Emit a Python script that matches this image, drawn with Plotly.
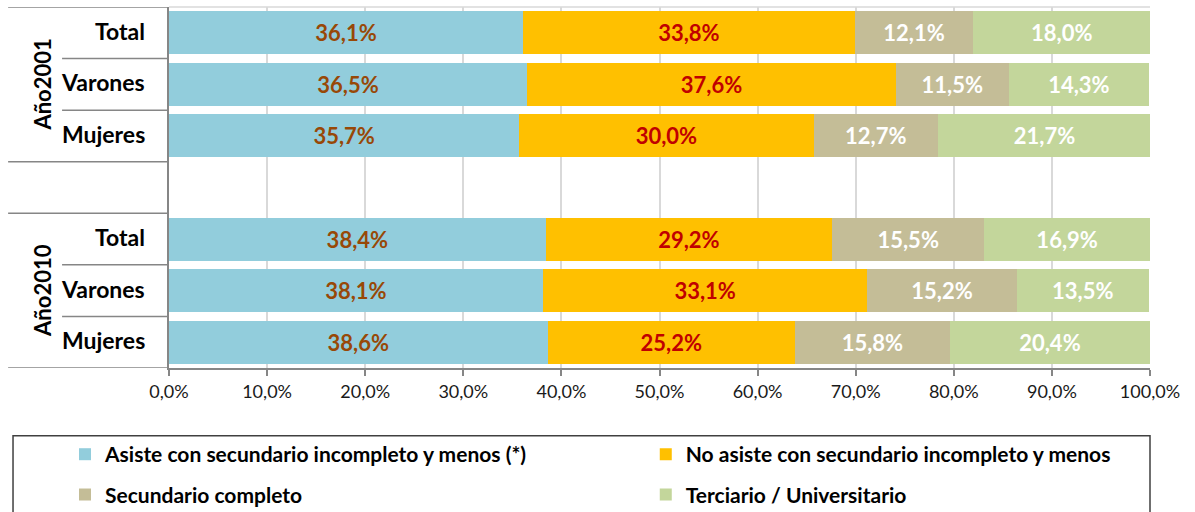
import plotly.graph_objects as go

# datos
grupos = ["Año2001", "Año2010"]
sexos = ["Total", "Varones", "Mujeres"]
series = [
    "Asiste con secundario incompleto y menos (*)",
    "No asiste con secundario incompleto y menos",
    "Secundario completo",
    "Terciario / Universitario",
]
asiste = [36.1, 36.5, 35.7, 38.4, 38.1, 38.6]
no_asiste = [33.8, 37.6, 30.0, 29.2, 33.1, 25.2]
sec_completo = [12.1, 11.5, 12.7, 15.5, 15.2, 15.8]
terciario = [18.0, 14.3, 21.7, 16.9, 13.5, 20.4]
ticks_x = [0, 10, 20, 30, 40, 50, 60, 70, 80, 90, 100]
ticks_txt = ["0,0%", "10,0%", "20,0%", "30,0%", "40,0%", "50,0%",
             "60,0%", "70,0%", "80,0%", "90,0%", "100,0%"]

colores = ["#92CDDC", "#FFC000", "#C4BD97", "#C3D69B"]
colores_texto = ["#984807", "#C00000", "#FFFFFF", "#FFFFFF"]
leyendas = ["legend", "legend2", "legend", "legend2"]

FONT = "Lato"
filas = [f"{g}|{s}" for g in grupos for s in sexos]
orden = filas[:3] + ["-"] + filas[3:]

fig = go.Figure()
for i, valores in enumerate([asiste, no_asiste, sec_completo, terciario]):
    fig.add_trace(go.Bar(
        y=filas,
        x=valores,
        orientation="h",
        name=series[i],
        legend=leyendas[i],
        legendgroup=series[i],
        marker=dict(color=colores[i], line=dict(width=0)),
        texttemplate="%{x:.1f}%",
        textposition="inside",
        insidetextanchor="middle",
        textangle=0,
        textfont=dict(family=FONT, size=22, color=colores_texto[i], weight="bold"),
    ))

# etiquetas de categorias y grupos
gris = "#868686"
shapes = []
annotations = []
for gi, g in enumerate(grupos):
    base = orden.index(f"{g}|{sexos[0]}")
    shapes.append(dict(type="line", xref="paper", yref="y", x0=-0.164, x1=0,
                       y0=base - 0.5, y1=base - 0.5, line=dict(color=gris, width=1.5)))
    shapes.append(dict(type="line", xref="paper", yref="y", x0=-0.164, x1=0,
                       y0=base + 2.5, y1=base + 2.5, line=dict(color=gris, width=1.5)))
    for k in range(1, 3):
        shapes.append(dict(type="line", xref="paper", yref="y", x0=-0.109, x1=0,
                           y0=base + k - 0.5, y1=base + k - 0.5, line=dict(color=gris, width=1.5)))
    for s in sexos:
        annotations.append(dict(x=0, xref="paper", y=f"{g}|{s}", yref="y", text=s,
                                showarrow=False, xanchor="right", xshift=-22, yshift=2,
                                font=dict(family=FONT, size=23, color="#000000", weight="bold")))
    annotations.append(dict(x=-0.145, xref="paper", y=f"{g}|{sexos[1]}", yref="y", text=g,
                            showarrow=False, textangle=-90,
                            font=dict(family=FONT, size=22, color="#000000", weight="bold")))

# linea superior del area de trazado
shapes.append(dict(type="line", xref="paper", yref="paper", x0=0, x1=1, y0=1, y1=1,
                   line=dict(color="#D9D9D9", width=1.5)))
# marco de la leyenda
shapes.append(dict(type="rect", xref="paper", yref="paper", x0=-0.159, x1=1.0,
                   y0=-0.188, y1=-0.5, line=dict(color="#404040", width=1.5)))

fig.update_layout(
    width=1195,
    height=512,
    barmode="stack",
    bargap=0.165,
    separators=",.",
    plot_bgcolor="white",
    paper_bgcolor="white",
    margin=dict(l=169, r=45, t=7, b=144, autoexpand=False),
    font=dict(family=FONT, color="#000000"),
    xaxis=dict(
        range=[0, 100],
        tickvals=ticks_x,
        ticktext=ticks_txt,
        showgrid=True,
        gridcolor="#D9D9D9",
        gridwidth=1.5,
        showline=True,
        linecolor=gris,
        linewidth=1.5,
        ticks="outside",
        ticklen=6,
        tickcolor=gris,
        tickwidth=1.5,
        ticklabelstandoff=1,
        tickfont=dict(family=FONT, size=18, color="#1A1A1A"),
        zeroline=False,
    ),
    yaxis=dict(
        type="category",
        categoryorder="array",
        categoryarray=orden,
        range=[6.5, -0.5],
        showticklabels=False,
        showgrid=False,
        showline=True,
        linecolor=gris,
        linewidth=1.5,
        ticks="",
    ),
    legend=dict(
        orientation="v", x=-0.106, xanchor="left", y=-0.183, yanchor="top",
        bgcolor="rgba(0,0,0,0)", tracegroupgap=10, traceorder="grouped",
        font=dict(family=FONT, size=21, color="#000000", weight="bold"),
    ),
    legend2=dict(
        orientation="v", x=0.486, xanchor="left", y=-0.183, yanchor="top",
        bgcolor="rgba(0,0,0,0)", tracegroupgap=10, traceorder="grouped",
        font=dict(family=FONT, size=21, color="#000000", weight="bold"),
    ),
    shapes=shapes,
    annotations=annotations,
)

# quitar el margen por defecto del <body> para que la figura quede en (0, 0)
fig.write_html("out.html", config={"displayModeBar": False},
               post_script="document.body.style.margin='0';")
